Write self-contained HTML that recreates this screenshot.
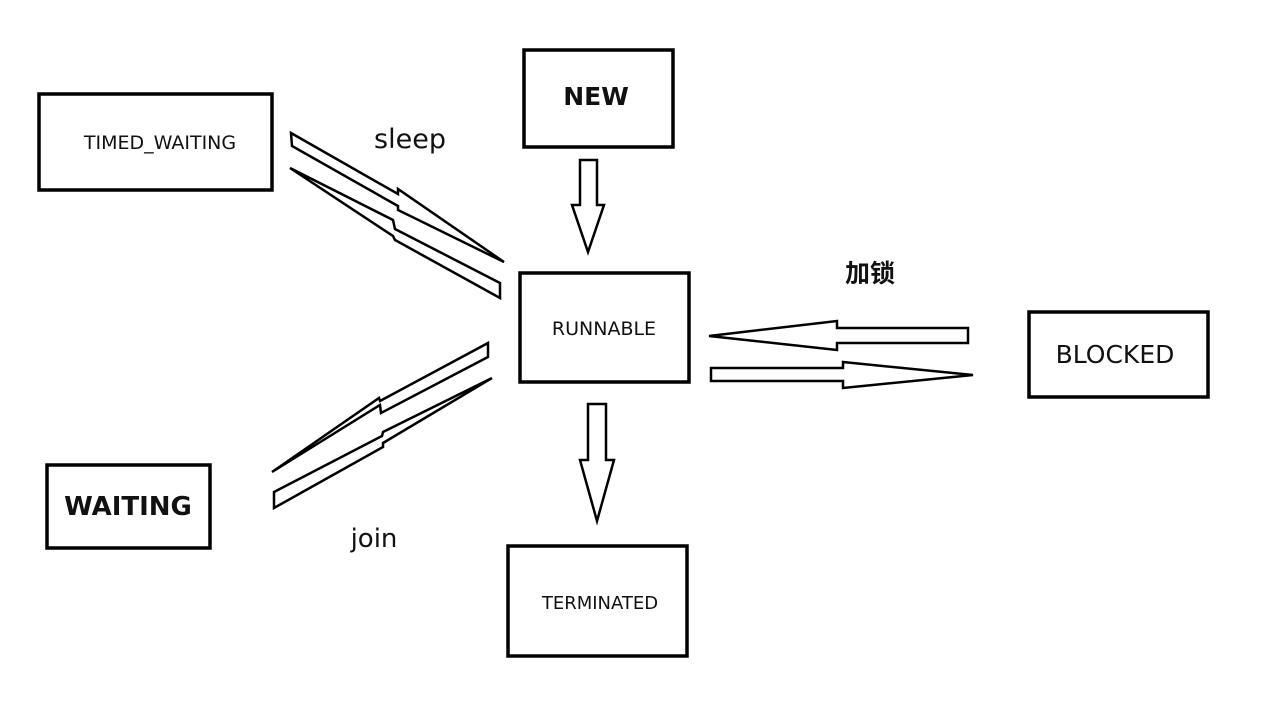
<!DOCTYPE html>
<html><head><meta charset="utf-8"><style>
html,body{margin:0;padding:0;background:#fff;width:1280px;height:706px;overflow:hidden}
svg text{font-family:"DejaVu Sans","Liberation Sans","Noto Sans CJK SC",sans-serif;fill:#111}
</style></head><body>
<svg width="1280" height="706" viewBox="0 0 1280 706" xmlns="http://www.w3.org/2000/svg">
<g fill="none" stroke="#000" stroke-width="3.5">
<rect x="39" y="94" width="233" height="96"/>
<rect x="524" y="50" width="149" height="97"/>
<rect x="520" y="273" width="169" height="109"/>
<rect x="1029" y="312" width="179" height="85"/>
<rect x="47" y="465" width="163" height="83"/>
<rect x="508" y="546" width="179" height="110"/>
</g>
<g fill="#fff" stroke="#000" stroke-width="2.5" stroke-linejoin="miter">
<!-- sleep arrows -->
<polygon points="291,133 398,194 398,189 504,262 398,210 398,206 292,146"/>
<polygon points="290,168 393,220 395,229 500,283 500,298 395,240 393,236"/>
<!-- join arrows -->
<polygon points="488,343 488,357 381,413 380,405 272,472 379,398 380,401"/>
<polygon points="274,492 274,508 383,447 383,443 492,378 383,432 382,436"/>
<!-- horizontal -->
<polygon points="709,336 837,321 837,328 968,328 968,343 837,343 837,350"/>
<polygon points="711,368 843,368 843,362 973,375 843,388 843,381 711,381"/>
<!-- vertical -->
<polygon points="580,160 597,160 597,205 604,205 588,252 572,205 580,205"/>
<polygon points="588,404 606,404 606,460 614,460 597,521 580,460 588,460"/>
</g>
<text x="160" y="149" font-size="19" text-anchor="middle">TIMED_WAITING</text>
<text x="596" y="105" font-size="25" text-anchor="middle" font-weight="bold">NEW</text>
<text x="604" y="335" font-size="19" text-anchor="middle">RUNNABLE</text>
<text x="1115" y="363" font-size="25" text-anchor="middle">BLOCKED</text>
<text x="128" y="515" font-size="26" text-anchor="middle" font-weight="bold">WAITING</text>
<text x="600" y="609" font-size="18" text-anchor="middle">TERMINATED</text>
<text x="410" y="148" font-size="27" text-anchor="middle">sleep</text>
<text x="374" y="547" font-size="26" text-anchor="middle">join</text>
<text x="870" y="282" font-size="25" text-anchor="middle" font-weight="bold" style="font-family:'Noto Sans CJK SC',sans-serif">加锁</text>
</svg>
</body></html>
